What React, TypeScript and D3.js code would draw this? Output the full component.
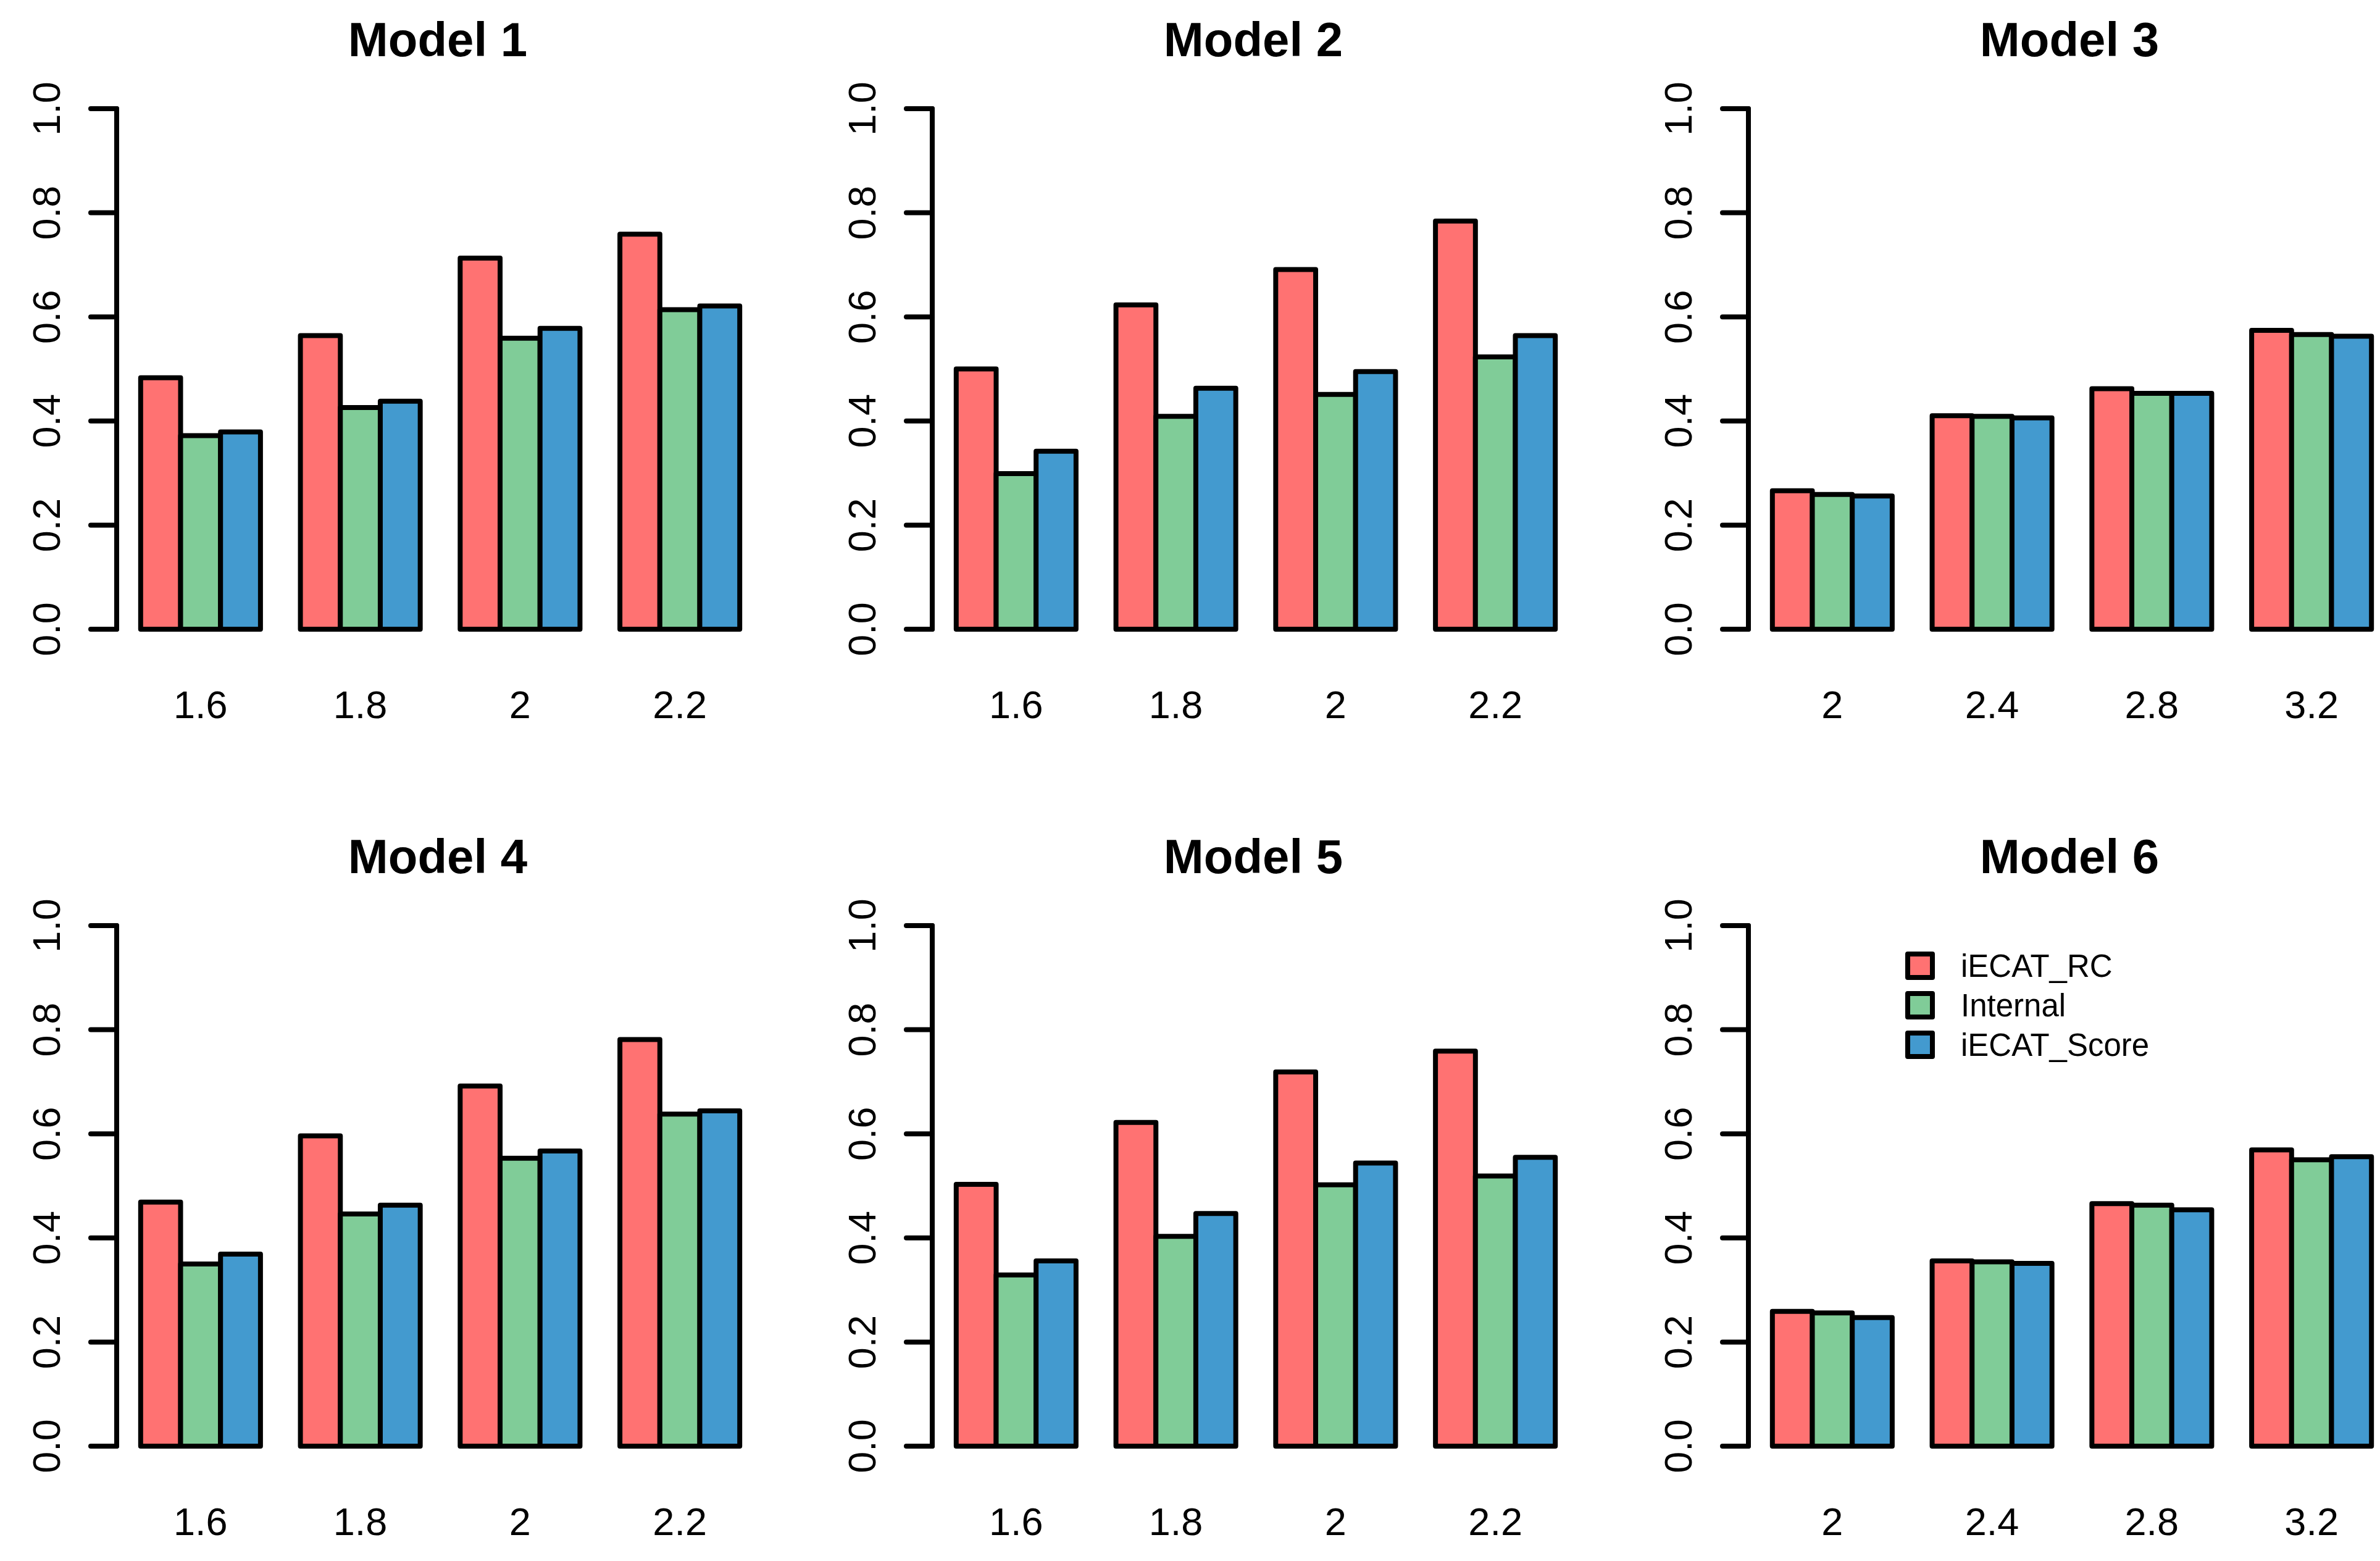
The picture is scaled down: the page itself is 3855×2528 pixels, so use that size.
import * as d3 from 'd3';

const seriesNames = ['iECAT_RC', 'Internal', 'iECAT_Score'];
const seriesColors = ['#FF7272', '#80CC98', '#439ACF'];

const catsLow = ['1.6', '1.8', '2', '2.2'];
const catsHigh = ['2', '2.4', '2.8', '3.2'];
const yTicks = [0, 0.2, 0.4, 0.6, 0.8, 1.0];

// rows: iECAT_RC, Internal, iECAT_Score
const model1 = [
  [0.483, 0.564, 0.713, 0.759],
  [0.372, 0.426, 0.559, 0.614],
  [0.379, 0.438, 0.578, 0.621],
];
const model2 = [
  [0.500, 0.623, 0.691, 0.784],
  [0.299, 0.409, 0.451, 0.523],
  [0.342, 0.463, 0.495, 0.564],
];
const model3 = [
  [0.266, 0.410, 0.462, 0.574],
  [0.259, 0.409, 0.453, 0.566],
  [0.256, 0.406, 0.453, 0.563],
];
const model4 = [
  [0.469, 0.596, 0.692, 0.781],
  [0.350, 0.446, 0.553, 0.638],
  [0.369, 0.463, 0.567, 0.644],
];
const model5 = [
  [0.503, 0.622, 0.719, 0.759],
  [0.329, 0.403, 0.502, 0.519],
  [0.356, 0.447, 0.544, 0.555],
];
const model6 = [
  [0.259, 0.356, 0.466, 0.569],
  [0.256, 0.354, 0.463, 0.550],
  [0.247, 0.351, 0.454, 0.556],
];

const panels = [
  { title: 'Model 1', cats: catsLow, data: model1 },
  { title: 'Model 2', cats: catsLow, data: model2 },
  { title: 'Model 3', cats: catsHigh, data: model3 },
  { title: 'Model 4', cats: catsLow, data: model4 },
  { title: 'Model 5', cats: catsLow, data: model5 },
  { title: 'Model 6', cats: catsHigh, data: model6, legend: true },
];

const W = 3855;
const H = 2528;
const colX = [189, 1510, 2832];
const rowY0 = [1019, 2342];
const plotH = 843;
const plotW = 1048;
const font = '"Liberation Sans", Arial, sans-serif';
const lw = 8;

function Panel({ p, col, row }: { p: typeof panels[number]; col: number; row: number }) {
  const ax = colX[col];
  const y0 = rowY0[row];
  const y = d3.scaleLinear().domain([0, 1]).range([y0, y0 - plotH]);
  const xg = d3.scaleBand<string>().domain(p.cats).range([ax, ax + plotW])
    .paddingInner(0.25).paddingOuter(0.15);
  const xs = d3.scaleBand<string>().domain(seriesNames).range([0, xg.bandwidth()]);
  const cx = ax + plotW / 2;

  return (
    <g>
      <text x={cx - 4} y={y(1) - 85} textAnchor="middle" fontFamily={font} fontWeight="bold" fontSize={78}>
        {p.title}
      </text>
      <line x1={ax} x2={ax} y1={y(0)} y2={y(1)} stroke="#000" strokeWidth={lw} strokeLinecap="round" />
      {yTicks.map(t => (
        <g key={t}>
          <line x1={ax - 42} x2={ax} y1={y(t)} y2={y(t)} stroke="#000" strokeWidth={lw} strokeLinecap="round" />
          <text transform={`translate(${ax - 92},${y(t)}) rotate(-90)`} textAnchor="middle"
            fontFamily={font} fontSize={63}>{t.toFixed(1)}</text>
        </g>
      ))}
      {p.cats.map((c, ci) => (
        <g key={c}>
          {seriesNames.map((s, si) => {
            const v = p.data[si][ci];
            return (
              <rect key={s} x={(xg(c) ?? 0) + (xs(s) ?? 0)} y={y(v)} width={xs.bandwidth()}
                height={y(0) - y(v)} fill={seriesColors[si]} stroke="#000" strokeWidth={lw}
                strokeLinejoin="round" />
            );
          })}
          <text x={(xg(c) ?? 0) + xg.bandwidth() / 2} y={y0 + 144} textAnchor="middle"
            fontFamily={font} fontSize={63}>{c}</text>
        </g>
      ))}
      {p.legend && seriesNames.map((s, si) => {
        const ly = y(1) + 65 + si * 64;
        return (
          <g key={s}>
            <rect x={ax + 258} y={ly - 19} width={40} height={38} fill={seriesColors[si]}
              stroke="#000" strokeWidth={lw} strokeLinejoin="round" />
            <text x={ax + 344} y={ly + 18} fontFamily={font} fontSize={51}>{s}</text>
          </g>
        );
      })}
    </g>
  );
}

export default function App() {
  return (
    <svg width={W} height={H} style={{ position: 'absolute', left: 0, top: 0, background: '#fff' }}>
      <rect width={W} height={H} fill="#fff" />
      {panels.map((p, i) => (
        <Panel key={p.title} p={p} col={i % 3} row={Math.floor(i / 3)} />
      ))}
    </svg>
  );
}
